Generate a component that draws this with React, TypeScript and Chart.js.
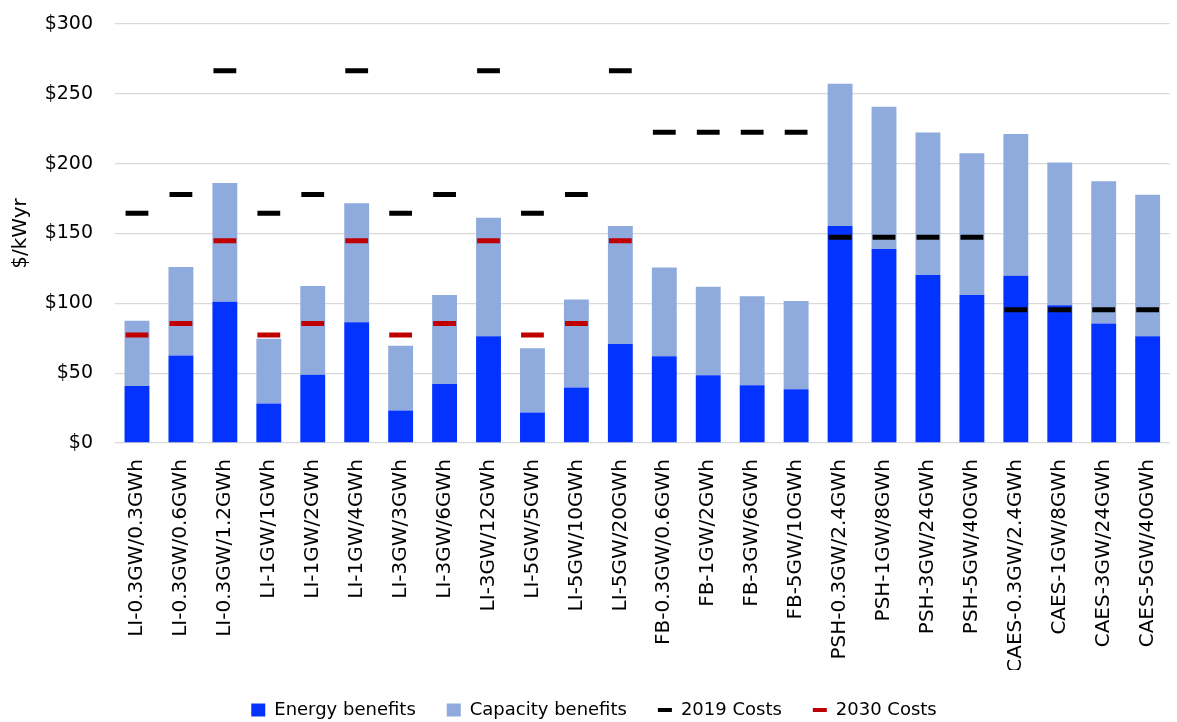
import React, { useEffect, useRef } from "react";
import { Chart, registerables } from "chart.js";

Chart.register(...registerables);

const categories = [
  "LI-0.3GW/0.3GWh", "LI-0.3GW/0.6GWh", "LI-0.3GW/1.2GWh",
  "LI-1GW/1GWh", "LI-1GW/2GWh", "LI-1GW/4GWh",
  "LI-3GW/3GWh", "LI-3GW/6GWh", "LI-3GW/12GWh",
  "LI-5GW/5GWh", "LI-5GW/10GWh", "LI-5GW/20GWh",
  "FB-0.3GW/0.6GWh", "FB-1GW/2GWh", "FB-3GW/6GWh", "FB-5GW/10GWh",
  "PSH-0.3GW/2.4GWh", "PSH-1GW/8GWh", "PSH-3GW/24GWh", "PSH-5GW/40GWh",
  "CAES-0.3GW/2.4GWh", "CAES-1GW/8GWh", "CAES-3GW/24GWh", "CAES-5GW/40GWh",
];

const energyBenefits = [
  40.9, 62.7, 101.1, 28.2, 48.8, 86.5, 23.2, 42.3, 76.5, 21.8, 39.7, 70.8,
  62.2, 48.5, 41.4, 38.5, 155.4, 138.9, 120.2, 105.9, 119.8, 98.7, 85.6, 76.5,
];

const capacityBenefits = [
  46.6, 63.3, 85.1, 46.4, 63.6, 85.1, 46.4, 63.6, 84.8, 46.1, 63.1, 84.6,
  63.5, 63.4, 63.6, 63.1, 101.8, 101.8, 102.1, 101.6, 101.5, 102.1, 101.8, 101.3,
];

const costs2019 = [
  164.5, 178, 266.5, 164.5, 178, 266.5, 164.5, 178, 266.5, 164.5, 178, 266.5,
  222.5, 222.5, 222.5, 222.5, 147.3, 147.3, 147.3, 147.3, 95.4, 95.4, 95.4, 95.4,
];

const costs2030 = [
  77.4, 85.6, 144.8, 77.4, 85.6, 144.8, 77.4, 85.6, 144.8, 77.4, 85.6, 144.8,
  null, null, null, null, null, null, null, null, null, null, null, null,
];

const yMin = 0;
const yMax = 300;
const yStep = 50;

const ENERGY = "#0433FF";
const CAPACITY = "#8FAADC";
const C2019 = "#000000";
const C2030 = "#C00000";
const FONT = "'DejaVu Sans', sans-serif";

export default function App() {
  const ref = useRef<HTMLCanvasElement>(null);

  useEffect(() => {
    if (!ref.current) return;
    Chart.defaults.font.family = FONT;
    const chart = new Chart(ref.current, {
      type: "bar",
      data: {
        labels: categories,
        datasets: [
          {
            type: "bar",
            label: "Energy benefits",
            data: energyBenefits,
            backgroundColor: ENERGY,
            borderWidth: 0,
            stack: "benefits",
            order: 2,
            barPercentage: 0.566,
            categoryPercentage: 1,
          },
          {
            type: "bar",
            label: "Capacity benefits",
            data: capacityBenefits,
            backgroundColor: CAPACITY,
            borderWidth: 0,
            stack: "benefits",
            order: 2,
            barPercentage: 0.566,
            categoryPercentage: 1,
          },
          {
            type: "line",
            label: "2019 Costs",
            data: costs2019,
            showLine: false,
            pointStyle: "line",
            pointRadius: 11.4,
            pointHoverRadius: 11.4,
            pointBorderWidth: 5,
            pointHoverBorderWidth: 5,
            borderColor: C2019,
            backgroundColor: C2019,
            pointBorderColor: C2019,
            stack: "cost2019",
            order: 1,
          },
          {
            type: "line",
            label: "2030 Costs",
            data: costs2030,
            showLine: false,
            pointStyle: "line",
            pointRadius: 11.4,
            pointHoverRadius: 11.4,
            pointBorderWidth: 5,
            pointHoverBorderWidth: 5,
            borderColor: C2030,
            backgroundColor: C2030,
            pointBorderColor: C2030,
            stack: "cost2030",
            order: 0,
          },
        ] as any,
      },
      options: {
        animation: false,
        responsive: true,
        maintainAspectRatio: false,
        devicePixelRatio: 1,
        layout: { padding: { top: 24, left: 0, right: 0, bottom: 0 } },
        plugins: {
          tooltip: { enabled: false },
          legend: {
            position: "bottom",
            align: "center",
            labels: {
              usePointStyle: true,
              pointStyleWidth: 14,
              boxHeight: 13,
              padding: 31,
              color: "#000",
              font: { size: 18, family: FONT },
              generateLabels: () => [
                { text: "Energy benefits", fillStyle: ENERGY, strokeStyle: ENERGY, lineWidth: 0, pointStyle: "rect", hidden: false, datasetIndex: 0, fontColor: "#000" },
                { text: "Capacity benefits", fillStyle: CAPACITY, strokeStyle: CAPACITY, lineWidth: 0, pointStyle: "rect", hidden: false, datasetIndex: 1, fontColor: "#000" },
                { text: "2019 Costs", fillStyle: C2019, strokeStyle: C2019, lineWidth: 4, pointStyle: "line", hidden: false, datasetIndex: 2, fontColor: "#000" },
                { text: "2030 Costs", fillStyle: C2030, strokeStyle: C2030, lineWidth: 4, pointStyle: "line", hidden: false, datasetIndex: 3, fontColor: "#000" },
              ] as any,
            },
          },
        },
        scales: {
          x: {
            stacked: true,
            grid: { display: false, drawTicks: false },
            border: { display: false },
            ticks: {
              autoSkip: false,
              maxRotation: 90,
              minRotation: 90,
              padding: 16,
              color: "#000",
              font: { size: 20, family: FONT },
            },
            afterFit: (scale: any) => {
              scale.height = 227;
            },
          },
          y: {
            stacked: true,
            min: yMin,
            max: yMax,
            grid: { color: "#D9D9D9", lineWidth: 1.3, drawTicks: false },
            border: { display: false },
            ticks: {
              stepSize: yStep,
              padding: 22,
              color: "#000",
              font: { size: 19, family: FONT },
              callback: (v: any) => "$" + v,
            },
            title: {
              display: true,
              text: "$/kWyr",
              color: "#000",
              font: { size: 20, family: FONT },
              padding: { top: 9, bottom: 0 },
            },
            afterFit: (scale: any) => {
              scale.width = 115;
              scale.paddingTop = 0;
              scale.paddingBottom = 0;
            },
          },
        },
      },
    });
    return () => chart.destroy();
  }, []);

  return (
    <div
      style={{
        position: "fixed",
        left: 0,
        top: 0,
        width: 1177,
        height: 722,
        overflow: "hidden",
        background: "#fff",
      }}
    >
      <div style={{ position: "relative", width: 1188, height: 729 }}>
        <canvas ref={ref} />
      </div>
    </div>
  );
}
